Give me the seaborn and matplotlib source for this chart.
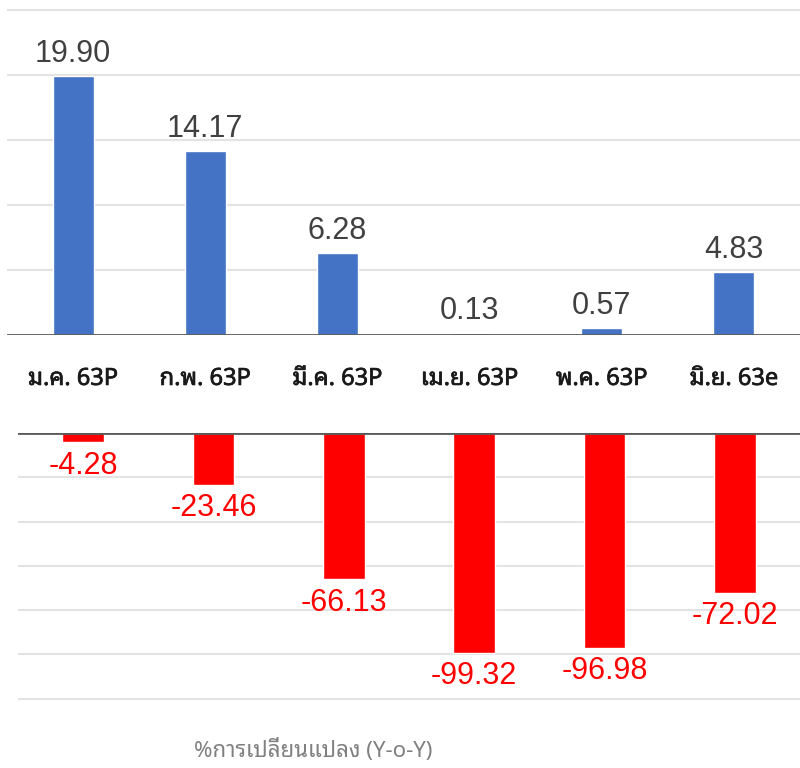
import numpy as np
import pandas as pd
import seaborn as sns
import matplotlib.pyplot as plt
import matplotlib.patheffects as pe
from matplotlib import font_manager, ft2font

# data
months = ['ม.ค. 63P', 'ก.พ. 63P', 'มี.ค. 63P', 'เม.ย. 63P', 'พ.ค. 63P', 'มิ.ย. 63e']
change_mom = [19.90, 14.17, 6.28, 0.13, 0.57, 4.83]
change_yoy = [-4.28, -23.46, -66.13, -99.32, -96.98, -72.02]
caption = '%การเปลี่ยนแปลง (Y-o-Y)'


def find_thai_font():
    # look for an installed family that has Thai glyphs
    found = []
    for f in font_manager.fontManager.ttflist:
        try:
            if 0x0E01 in ft2font.FT2Font(f.fname).get_charmap():
                found.append(f.name)
        except Exception:
            pass
    for pref in ['Noto Sans Thai Looped', 'Noto Looped Thai', 'Noto Sans Thai', 'Loma', 'Garuda']:
        if pref in found:
            return pref
    return found[0] if found else 'DejaVu Sans'


sns.set_style('white')
thai_font = find_thai_font()
plt.rcParams['font.family'] = ['Liberation Sans', 'DejaVu Sans']

fig = plt.figure(figsize=(8, 7.68), dpi=100)
ax_top = fig.add_axes([7 / 800, 1 - 335 / 768, 1 - 7 / 800, (335 - 3.5) / 768])
ax_bot = fig.add_axes([18 / 800, 1 - 701 / 768, 1 - 18 / 800, (701 - 433) / 768])

sns.barplot(x=months, y=change_mom, color='#4472C4', saturation=1, width=0.31, ax=ax_top)
sns.barplot(x=months, y=change_yoy, color='#FF0000', saturation=1, width=0.32, ax=ax_bot)

ax_top.set_ylim(0, 25.5)
ax_top.set_yticks([5, 10, 15, 20, 25])
ax_bot.set_ylim(-121, 0)
ax_bot.set_yticks([-20, -40, -60, -80, -100, -120])

for ax in (ax_top, ax_bot):
    ax.set_xlim(-0.5, 5.5)
    ax.set_axisbelow(True)
    ax.yaxis.grid(True, color='#e3e3e3', linewidth=1.5)
    ax.set_yticklabels([])
    ax.tick_params(axis='y', length=0)
    ax.set_xlabel('')
    ax.set_ylabel('')
    for s in ax.spines.values():
        s.set_visible(False)
    ax.axhline(0, color='#5a5a5a', linewidth=2, zorder=3)

ax_top.bar_label(ax_top.containers[0], fmt='%.2f', padding=5, fontsize=22, color='#404040')
ax_bot.bar_label(ax_bot.containers[0], fmt='%.2f', padding=6, fontsize=22, color='#FF0000')

ax_top.tick_params(axis='x', length=0, pad=23)
ax_top.set_xticks(range(len(months)))
ax_top.set_xticklabels(months, family=[thai_font, 'DejaVu Sans'], fontsize=17,
                       color='#1a1a1a')
# no bold Thai face installed, so thicken the strokes slightly
for lbl in ax_top.get_xticklabels():
    lbl.set_path_effects([pe.withStroke(linewidth=0.5, foreground='#1a1a1a')])
ax_bot.set_xticks([])

fig.text(313 / 800, 1 - 750 / 768, caption, family=[thai_font, 'DejaVu Sans'],
         fontsize=16, color='#808080', ha='center', va='center')

plt.savefig('out.png', dpi=100)
